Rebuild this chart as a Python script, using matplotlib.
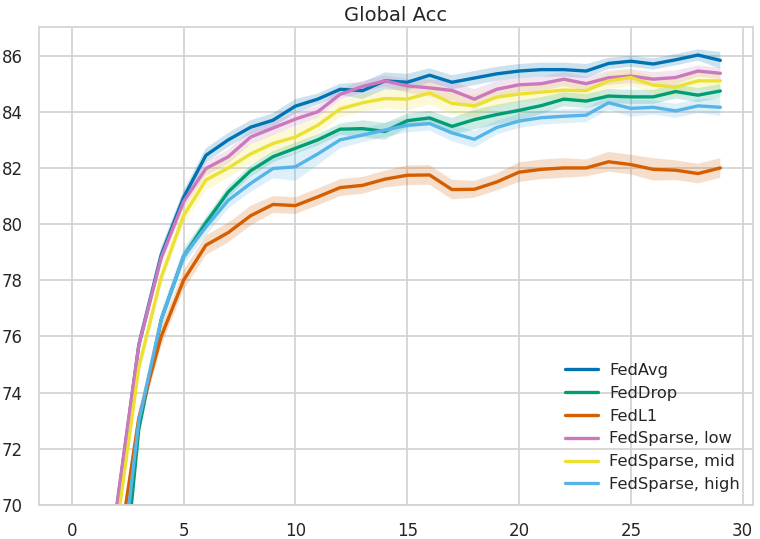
import numpy as np
import matplotlib.pyplot as plt
import seaborn as sns

# -------------------------------------------------------------------
# values (mean curve and half width of the band)
# -------------------------------------------------------------------
rounds = np.arange(30)

fedavg = [28.0, 55.0, 69.8, 75.7, 78.9, 80.95, 82.45, 83.0, 83.45, 83.7,
          84.2, 84.45, 84.8, 84.75, 85.1, 85.05, 85.3, 85.05, 85.2, 85.35,
          85.45, 85.5, 85.5, 85.45, 85.72, 85.8, 85.7, 85.85, 86.02, 85.83]
feddrop = [24.0, 50.0, 64.6, 72.7, 76.6, 78.85, 80.05, 81.15, 81.9, 82.4,
           82.7, 83.0, 83.38, 83.4, 83.3, 83.68, 83.78, 83.48, 83.72, 83.9,
           84.05, 84.22, 84.45, 84.38, 84.56, 84.53, 84.53, 84.72, 84.59, 84.74]
fedl1 = [26.0, 52.0, 67.8, 73.1, 76.0, 78.0, 79.25, 79.7, 80.3, 80.7,
         80.66, 80.97, 81.3, 81.38, 81.6, 81.74, 81.75, 81.23, 81.24, 81.5,
         81.85, 81.95, 82.0, 82.0, 82.22, 82.12, 81.95, 81.92, 81.8, 82.0]
sparse_low = [29.0, 56.0, 69.9, 75.7, 78.8, 80.8, 81.98, 82.4, 83.1, 83.42,
              83.74, 84.0, 84.62, 84.9, 85.1, 84.92, 84.85, 84.76, 84.45, 84.8,
              84.96, 85.0, 85.16, 85.0, 85.21, 85.27, 85.16, 85.22, 85.45, 85.37]
sparse_mid = [27.0, 54.0, 69.1, 74.9, 78.1, 80.3, 81.57, 82.0, 82.5, 82.87,
              83.1, 83.52, 84.1, 84.32, 84.47, 84.45, 84.67, 84.3, 84.21, 84.52,
              84.63, 84.7, 84.77, 84.75, 85.1, 85.22, 84.95, 84.88, 85.1, 85.1]
sparse_high = [25.0, 51.0, 66.2, 73.0, 76.6, 78.85, 79.9, 80.85, 81.45, 81.98,
               82.04, 82.5, 83.0, 83.17, 83.35, 83.52, 83.58, 83.25, 83.02, 83.44,
               83.67, 83.79, 83.84, 83.88, 84.32, 84.12, 84.16, 84.03, 84.21, 84.16]

fedavg_ci = [0.5, 0.4, 0.3, 0.3, 0.3, 0.25, 0.25, 0.25, 0.25, 0.25,
             0.25, 0.2, 0.2, 0.3, 0.3, 0.3, 0.25, 0.25, 0.25, 0.25,
             0.25, 0.25, 0.25, 0.25, 0.2, 0.2, 0.2, 0.2, 0.2, 0.3]
feddrop_ci = [0.5, 0.4, 0.3, 0.2, 0.2, 0.2, 0.2, 0.2, 0.2, 0.2,
              0.2, 0.2, 0.2, 0.3, 0.3, 0.25, 0.25, 0.3, 0.35, 0.35,
              0.35, 0.3, 0.25, 0.25, 0.25, 0.25, 0.25, 0.25, 0.25, 0.25]
fedl1_ci = [0.6, 0.5, 0.4, 0.35, 0.35, 0.35, 0.35, 0.35, 0.35, 0.3,
            0.3, 0.3, 0.3, 0.3, 0.3, 0.35, 0.35, 0.35, 0.3, 0.3,
            0.35, 0.35, 0.35, 0.3, 0.35, 0.35, 0.4, 0.35, 0.35, 0.35]
sparse_low_ci = [0.5, 0.4, 0.3, 0.3, 0.25, 0.25, 0.25, 0.25, 0.25, 0.25,
                 0.25, 0.2, 0.2, 0.2, 0.2, 0.25, 0.3, 0.35, 0.35, 0.3,
                 0.25, 0.25, 0.25, 0.25, 0.25, 0.25, 0.25, 0.25, 0.2, 0.2]
sparse_mid_ci = [0.5, 0.4, 0.3, 0.3, 0.3, 0.3, 0.35, 0.35, 0.35, 0.35,
                 0.35, 0.3, 0.3, 0.3, 0.35, 0.4, 0.4, 0.4, 0.4, 0.35,
                 0.3, 0.3, 0.3, 0.3, 0.3, 0.3, 0.3, 0.3, 0.3, 0.3]
sparse_high_ci = [0.5, 0.4, 0.3, 0.3, 0.3, 0.3, 0.3, 0.3, 0.3, 0.35,
                  0.5, 0.4, 0.3, 0.25, 0.25, 0.25, 0.25, 0.3, 0.3, 0.25,
                  0.25, 0.25, 0.25, 0.25, 0.25, 0.3, 0.25, 0.25, 0.25, 0.3]

labels = ["FedAvg", "FedDrop", "FedL1", "FedSparse, low", "FedSparse, mid", "FedSparse, high"]
means = [fedavg, feddrop, fedl1, sparse_low, sparse_mid, sparse_high]
bands = [fedavg_ci, feddrop_ci, fedl1_ci, sparse_low_ci, sparse_mid_ci, sparse_high_ci]

sns.set_theme(style="whitegrid")
plt.rcParams['font.family'] = ['DejaVu Sans']
pal = sns.color_palette("colorblind")
colors = [pal[0], pal[2], pal[3], pal[4], pal[8], pal[9]]

fig = plt.figure(figsize=(7.6, 5.39), dpi=100)
ax = fig.add_axes([0.0517, 0.063, 0.9388, 0.886])

for lab, m, ci, col in zip(labels, means, bands, colors):
    m = np.array(m); ci = np.array(ci)
    ax.fill_between(rounds, m - ci, m + ci, color=col, alpha=0.2, linewidth=0)
    ax.plot(rounds, m, color=col, lw=2.4, label=lab)

ax.set_xlim(-1.45, 30.45)
ax.set_ylim(70, 87)
ax.set_xticks(np.arange(0, 31, 5))
ax.set_yticks(np.arange(70, 87, 2))
ax.tick_params(labelsize=12, colors='0.15', pad=6)
ax.grid(True, color='0.83', linewidth=1.3)
for s in ax.spines.values():
    s.set_color('0.83')
    s.set_linewidth(1.3)

ax.set_title("Global Acc", fontsize=14, color='0.15', pad=5)
ax.legend(loc='lower right', frameon=False, fontsize=11.7, handlelength=2.0,
          handletextpad=0.7, borderaxespad=0.4, labelspacing=0.48)

plt.savefig("out.png", dpi=100)
plt.close()
